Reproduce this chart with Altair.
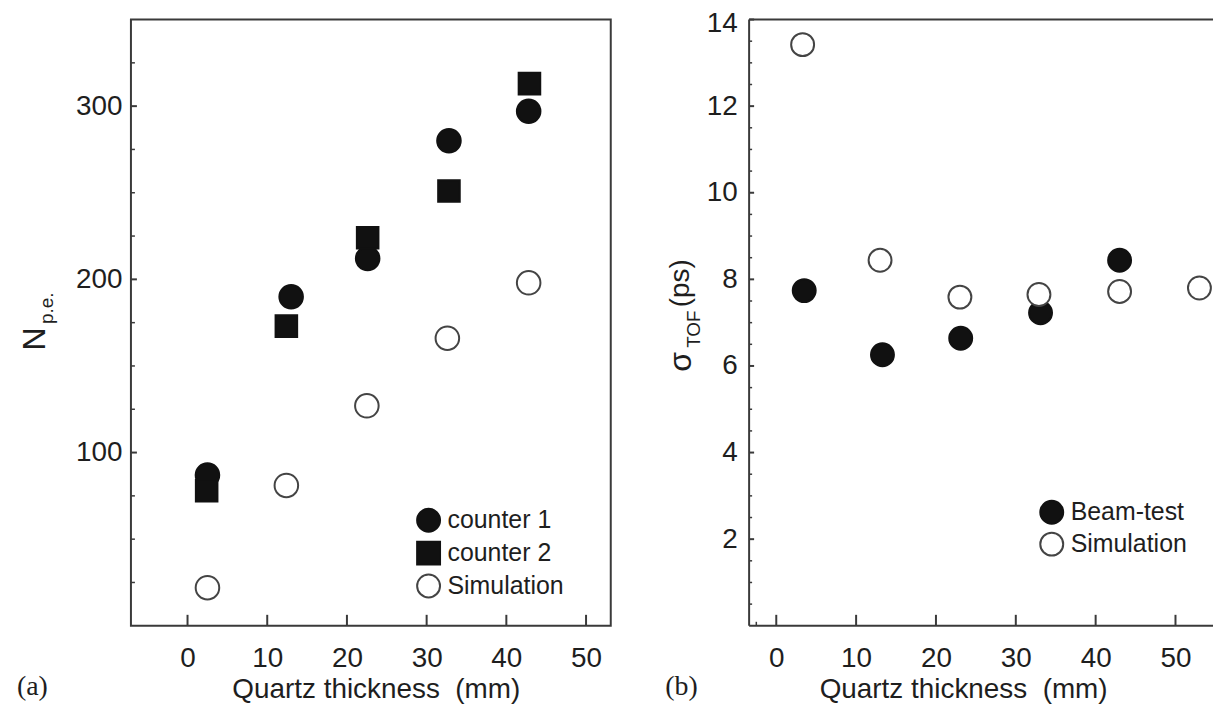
import altair as alt
import pandas as pd

# ---------------- data : panel (a) ----------------
series_a = ["counter 1", "counter 2", "Simulation"]
thick_c1 = [2.5, 13.0, 22.6, 32.8, 42.8]
npe_c1 = [87, 190, 212, 280, 297]
thick_c2 = [2.4, 12.4, 22.6, 32.8, 42.9]
npe_c2 = [78, 173, 224, 251, 313]
thick_sa = [2.5, 12.4, 22.5, 32.6, 42.8]
npe_sa = [22, 81, 127, 166, 198]

# ---------------- data : panel (b) ----------------
series_b = ["Beam-test", "Simulation"]
thick_bt = [3.5, 13.3, 23.1, 33.1, 43.0]
sig_bt = [7.74, 6.26, 6.64, 7.23, 8.44]
thick_sb = [3.3, 13.0, 23.0, 32.9, 43.0, 53.0]
sig_sb = [13.42, 8.44, 7.59, 7.65, 7.72, 7.80]

# ---------------- axis ticks ----------------
xticks = [0, 10, 20, 30, 40, 50]
yticks_a = [100, 200, 300]
yminor_a = [25, 50, 75, 125, 150, 175, 225, 250, 275, 325]
yticks_b = [2, 4, 6, 8, 10, 12, 14]
yminor_b = [v / 2 for v in range(1, 28) if v % 4 != 0]
xminor_b = [-2.5]

F = "Liberation Sans"
FS = "Liberation Serif"
TXT = "#1e1e1e"
AX = "#3a3a3a"
WA, WB, H = 482, 466, 609

def pts_df(xs, ys, s):
    return pd.DataFrame({"t": xs, "v": ys, "s": [s] * len(xs)})

def xaxis(title_x):
    return alt.Axis(values=xticks, ticks=False, tickSize=0, domain=False, grid=False,
                    labelFont=F, labelFontSize=28, labelColor=TXT, labelPadding=19,
                    title="Quartz thickness\u00a0 (mm)", titleFont=F, titleFontSize=28,
                    titleFontWeight="normal", titleColor=TXT, titleX=title_x, titleY=50,
                    titleBaseline="top")

def yaxis(vals, pad, offset=0):
    return alt.Axis(values=vals, ticks=False, tickSize=0, domain=False, grid=False,
                    labelFont=F, labelFontSize=28, labelColor=TXT, labelPadding=pad,
                    labelOffset=offset, title=None)

def legend(lx, ly, rp):
    return alt.Legend(title=None, orient="none", legendX=lx, legendY=ly, symbolSize=530,
                      symbolStrokeWidth=2, labelFont=F, labelFontSize=25, labelColor=TXT,
                      rowPadding=rp, labelOffset=6, padding=0)

one = pd.DataFrame({"k": [0]})

# ================= panel (a) =================
xs_a = alt.Scale(domain=[-7.1, 53.1], nice=False, zero=False)
ys_a = alt.Scale(domain=[0, 350], nice=False, zero=False)
leg_a = legend(286, 490, 1)
shp_a = alt.Scale(domain=series_a, range=["circle", "square", "circle"])
fil_a = alt.Scale(domain=series_a, range=["#111111", "#111111", "#ffffff"])
stk_a = alt.Scale(domain=series_a, range=["#111111", "#111111", "#444444"])

def pts_a(df, size):
    return alt.Chart(df).mark_point(filled=True, size=size, strokeWidth=2, opacity=1).encode(
        x=alt.X("t:Q", scale=xs_a, axis=xaxis(246)),
        y=alt.Y("v:Q", scale=ys_a, axis=yaxis(yticks_a, 9)),
        shape=alt.Shape("s:N", scale=shp_a, legend=leg_a),
        fill=alt.Fill("s:N", scale=fil_a, legend=leg_a),
        stroke=alt.Stroke("s:N", scale=stk_a, legend=leg_a),
    )

layer_c1 = pts_a(pts_df(thick_c1, npe_c1, series_a[0]), 560)
layer_c2 = pts_a(pts_df(thick_c2, npe_c2, series_a[1]), 470)
layer_sa = pts_a(pts_df(thick_sa, npe_sa, series_a[2]), 560)

xt_a = alt.Chart(pd.DataFrame({"t": xticks})).mark_rule(color=AX, strokeWidth=2).encode(
    x=alt.X("t:Q", scale=xs_a), y=alt.value(H), y2=alt.value(H - 11))
yt_a = alt.Chart(pd.DataFrame({"v": yticks_a})).mark_rule(color=AX, strokeWidth=2).encode(
    y=alt.Y("v:Q", scale=ys_a), x=alt.value(0), x2=alt.value(6))
ym_a = alt.Chart(pd.DataFrame({"v": yminor_a})).mark_rule(color=AX, strokeWidth=1.5).encode(
    y=alt.Y("v:Q", scale=ys_a), x=alt.value(0), x2=alt.value(4))
frame_a = alt.Chart(one).mark_rect(fill=None, stroke=AX, strokeWidth=2).encode(
    x=alt.value(0), x2=alt.value(WA), y=alt.value(0), y2=alt.value(H))

ylab_a = alt.Chart(pd.DataFrame({"txt": ["N"]})).mark_text(
    angle=270, font=F, fontSize=32, color=TXT, align="center", baseline="middle").encode(
    text="txt:N", x=alt.value(-96), y=alt.value(321))
ysub_a = alt.Chart(pd.DataFrame({"txt": ["p.e."]})).mark_text(
    angle=270, font=F, fontSize=19, color=TXT, align="center", baseline="middle").encode(
    text="txt:N", x=alt.value(-84), y=alt.value(290))
tag_a = alt.Chart(pd.DataFrame({"txt": ["(a)"]})).mark_text(
    font=FS, fontSize=28, color=TXT, align="center", baseline="middle").encode(
    text="txt:N", x=alt.value(-99), y=alt.value(H + 62))

panel_a = alt.layer(frame_a, ym_a, yt_a, xt_a, layer_c1, layer_c2, layer_sa,
                    ylab_a, ysub_a, tag_a).properties(width=WA, height=H)

# ================= panel (b) =================
xs_b = alt.Scale(domain=[-3.4, 54.7], nice=False, zero=False)
ys_b = alt.Scale(domain=[0, 14], nice=False, zero=False)
leg_b = legend(291, 482, 0)
shp_b = alt.Scale(domain=series_b, range=["circle", "circle"])
fil_b = alt.Scale(domain=series_b, range=["#111111", "#ffffff"])
stk_b = alt.Scale(domain=series_b, range=["#111111", "#444444"])
top_label_offset = {"condition": {"test": "datum.value >= 14", "value": 4}, "value": 0}

def pts_b(df):
    return alt.Chart(df).mark_point(filled=True, size=530, strokeWidth=2, opacity=1).encode(
        x=alt.X("t:Q", scale=xs_b, axis=xaxis(215)),
        y=alt.Y("v:Q", scale=ys_b, axis=yaxis(yticks_b, 12, top_label_offset)),
        shape=alt.Shape("s:N", scale=shp_b, legend=leg_b),
        fill=alt.Fill("s:N", scale=fil_b, legend=leg_b),
        stroke=alt.Stroke("s:N", scale=stk_b, legend=leg_b),
    )

layer_bt = pts_b(pts_df(thick_bt, sig_bt, series_b[0]))
layer_sb = pts_b(pts_df(thick_sb, sig_sb, series_b[1]))

xt_b = alt.Chart(pd.DataFrame({"t": xticks})).mark_rule(color=AX, strokeWidth=2).encode(
    x=alt.X("t:Q", scale=xs_b), y=alt.value(H), y2=alt.value(H - 11))
xm_b = alt.Chart(pd.DataFrame({"t": xminor_b})).mark_rule(color=AX, strokeWidth=1.5).encode(
    x=alt.X("t:Q", scale=xs_b), y=alt.value(H), y2=alt.value(H - 4))
yt_b = alt.Chart(pd.DataFrame({"v": yticks_b})).mark_rule(color=AX, strokeWidth=2).encode(
    y=alt.Y("v:Q", scale=ys_b), x=alt.value(0), x2=alt.value(5))
ym_b = alt.Chart(pd.DataFrame({"v": yminor_b})).mark_rule(color=AX, strokeWidth=1.5).encode(
    y=alt.Y("v:Q", scale=ys_b), x=alt.value(0), x2=alt.value(3))
fl_b = alt.Chart(one).mark_rule(color=AX, strokeWidth=2).encode(
    x=alt.value(0), y=alt.value(0), y2=alt.value(H))
ft_b = alt.Chart(one).mark_rule(color=AX, strokeWidth=2).encode(
    x=alt.value(0), x2=alt.value(WB), y=alt.value(0))
fb_b = alt.Chart(one).mark_rule(color=AX, strokeWidth=2).encode(
    x=alt.value(0), x2=alt.value(WB), y=alt.value(H))

ylab_b = alt.Chart(pd.DataFrame({"txt": ["\u03c3"]})).mark_text(
    angle=270, font=F, fontSize=32, color=TXT, align="center", baseline="middle").encode(
    text="txt:N", x=alt.value(-68), y=alt.value(344))
ysub_b = alt.Chart(pd.DataFrame({"txt": ["TOF"]})).mark_text(
    angle=270, font=F, fontSize=19, color=TXT, align="center", baseline="middle").encode(
    text="txt:N", x=alt.value(-55), y=alt.value(311))
yunit_b = alt.Chart(pd.DataFrame({"txt": ["(ps)"]})).mark_text(
    angle=270, font=F, fontSize=28, color=TXT, align="center", baseline="middle").encode(
    text="txt:N", x=alt.value(-68), y=alt.value(265))
tag_b = alt.Chart(pd.DataFrame({"txt": ["(b)"]})).mark_text(
    font=FS, fontSize=28, color=TXT, align="center", baseline="middle").encode(
    text="txt:N", x=alt.value(-68), y=alt.value(H + 62))

panel_b = alt.layer(fl_b, ft_b, fb_b, ym_b, yt_b, xt_b, xm_b, layer_bt, layer_sb,
                    ylab_b, ysub_b, yunit_b, tag_b).properties(width=WB, height=H)

chart = alt.hconcat(panel_a, panel_b, spacing=139, bounds="flush").resolve_scale(
    x="independent", y="independent", shape="independent", fill="independent",
    stroke="independent").resolve_legend(
    shape="independent", fill="independent", stroke="independent").properties(
    padding={"left": 8.5, "top": 0, "right": 0, "bottom": 0},
    background="white").configure_view(stroke=None)

chart.save("out.html", embed_options={"renderer": "svg", "actions": False})
